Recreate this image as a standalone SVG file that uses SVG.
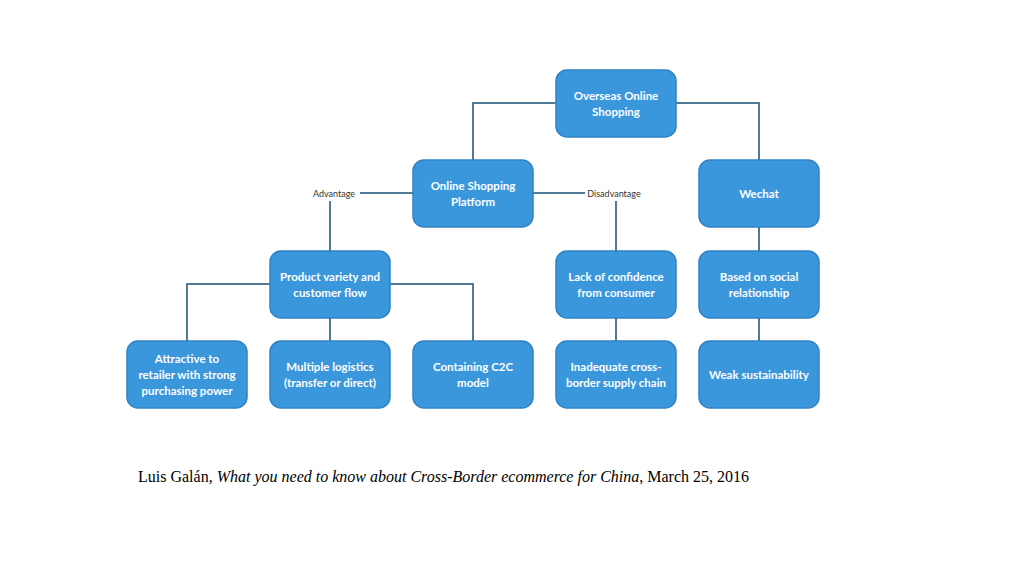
<svg xmlns="http://www.w3.org/2000/svg" width="1024" height="575" viewBox="0 0 1024 575">
<style>
.n rect{fill:#3a97dc;stroke:#2f82c4;stroke-width:1.5}
.n text{fill:#fff;font-family:Lato,"Liberation Sans",sans-serif;font-weight:bold;font-size:11.5px;text-anchor:middle}
.c path{fill:none;stroke:#4f7a98;stroke-width:2}
.lbl{font-family:Lato,"Liberation Sans",sans-serif;font-size:9px;fill:#333;text-anchor:middle}
</style>
<rect width="1024" height="575" fill="#fff"/>
<g class="c">
<path d="M556 103H473V160M676 103H759V160"/>
<path d="M413 193H360M330 201V251M533 193H585M616 201V251"/>
<path d="M759 227V251M616 318V341M759 318V341"/>
<path d="M270 284H187V341M390 284H473V341M330 318V341"/>
</g>
<text class="lbl" x="334" y="197">Advantage</text>
<text class="lbl" x="614" y="197">Disadvantage</text>
<g id="n1" class="n"><rect x="556" y="70" width="120" height="67" rx="11"/><text x="616" y="100">Overseas Online</text><text x="616" y="116">Shopping</text></g>
<g id="n2" class="n"><rect x="413" y="160" width="120" height="67" rx="11"/><text x="473" y="190">Online Shopping</text><text x="473" y="206">Platform</text></g>
<g id="n3" class="n"><rect x="699" y="160" width="120" height="67" rx="11"/><text x="759" y="198">Wechat</text></g>
<g id="n4" class="n"><rect x="270" y="251" width="120" height="67" rx="11"/><text x="330" y="281">Product variety and</text><text x="330" y="297">customer flow</text></g>
<g id="n5" class="n"><rect x="556" y="251" width="120" height="67" rx="11"/><text x="616" y="281">Lack of confidence</text><text x="616" y="297">from consumer</text></g>
<g id="n6" class="n"><rect x="699" y="251" width="120" height="67" rx="11"/><text x="759" y="281">Based on social</text><text x="759" y="297">relationship</text></g>
<g id="n7" class="n"><rect x="127" y="341" width="120" height="67" rx="11"/><text x="187" y="363">Attractive to</text><text x="187" y="379">retailer with strong</text><text x="187" y="395">purchasing power</text></g>
<g id="n8" class="n"><rect x="270" y="341" width="120" height="67" rx="11"/><text x="330" y="371">Multiple logistics</text><text x="330" y="387">(transfer or direct)</text></g>
<g id="n9" class="n"><rect x="413" y="341" width="120" height="67" rx="11"/><text x="473" y="371">Containing C2C</text><text x="473" y="387">model</text></g>
<g id="n10" class="n"><rect x="556" y="341" width="120" height="67" rx="11"/><text x="616" y="371">Inadequate cross-</text><text x="616" y="387">border supply chain</text></g>
<g id="n11" class="n"><rect x="699" y="341" width="120" height="67" rx="11"/><text x="759" y="379">Weak sustainability</text></g>
<text x="138" y="482" font-family="Liberation Serif,serif" font-size="16" fill="#000">Luis Galán, <tspan font-style="italic">What you need to know about Cross-Border ecommerce for China</tspan>,  March 25, 2016</text>
</svg>
